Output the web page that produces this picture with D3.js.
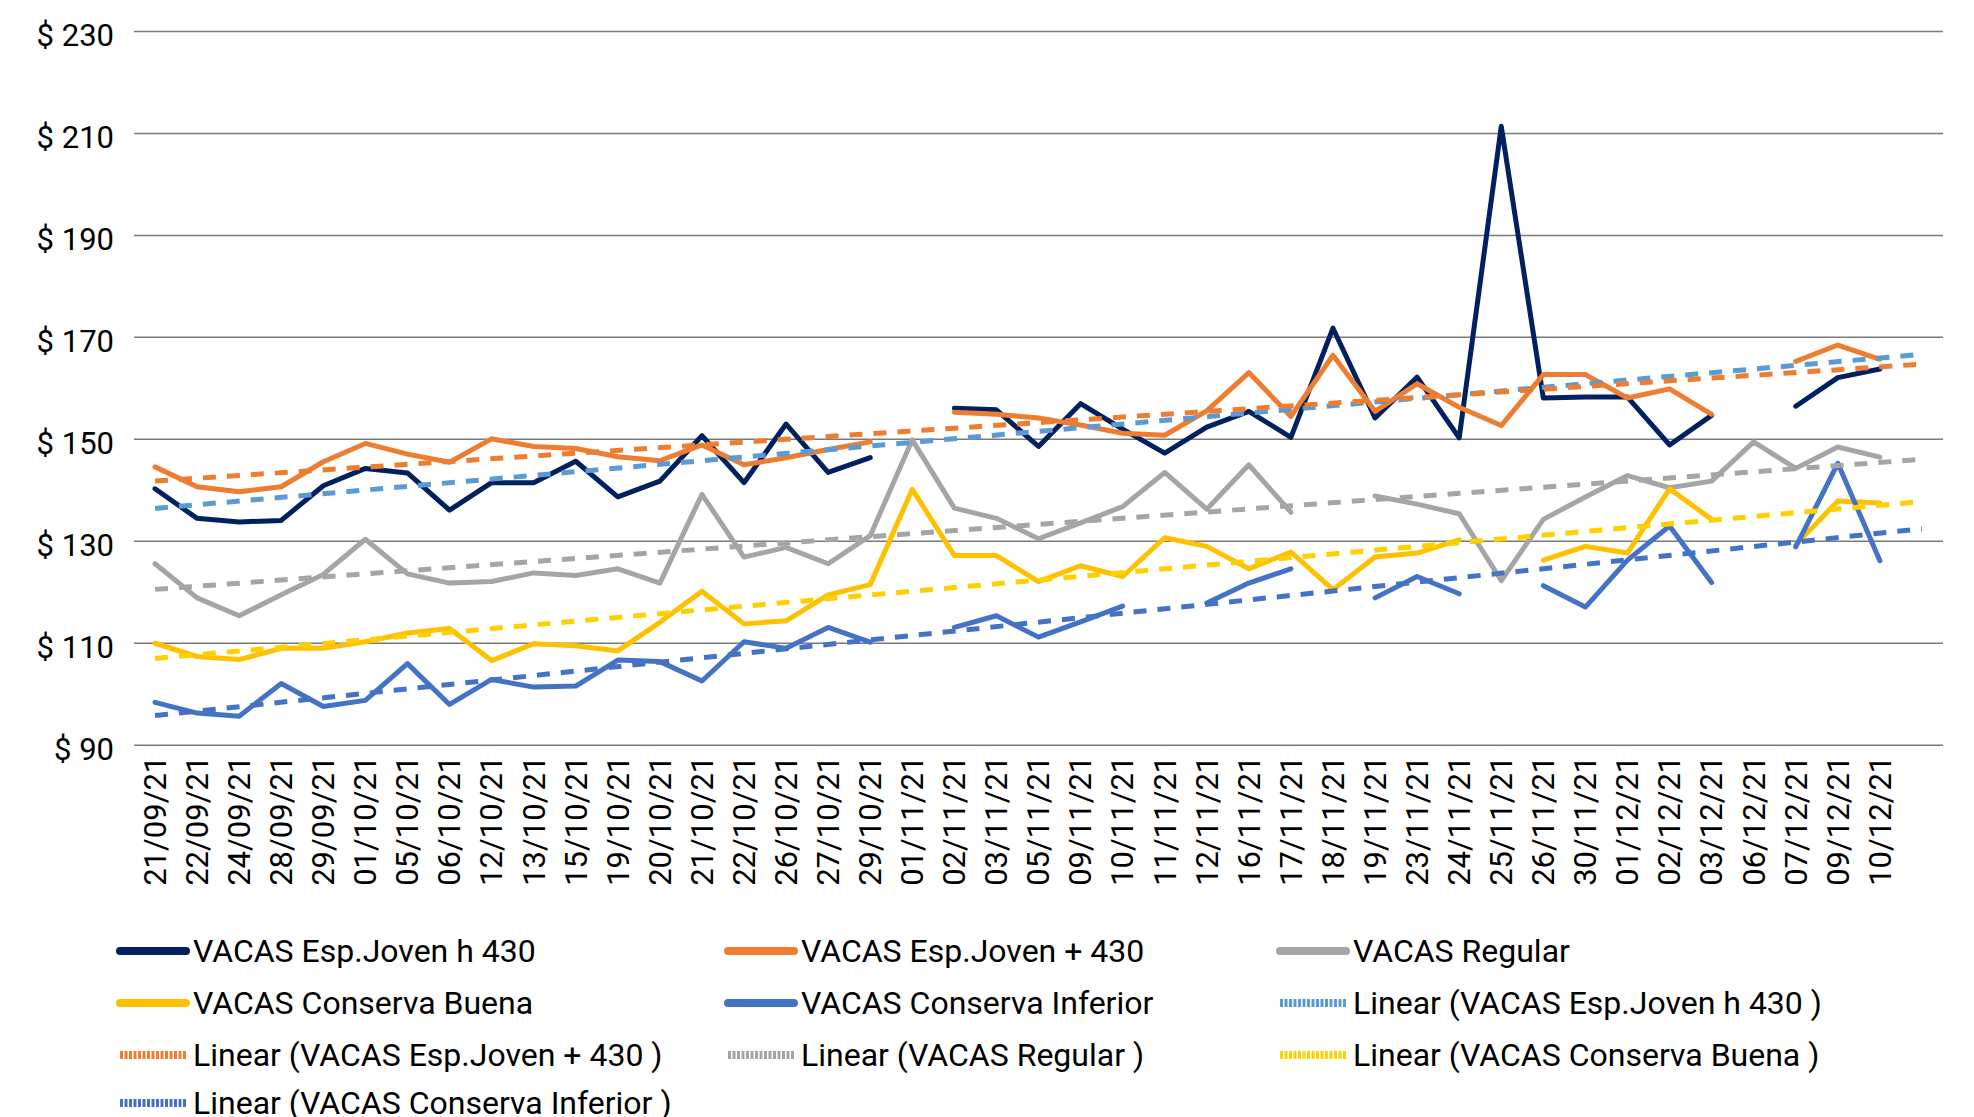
<!DOCTYPE html>
<html>
<head>
<meta charset="utf-8">
<script src="https://cdn.jsdelivr.net/npm/d3@7"></script>
<style>
  body { margin: 0; background: #fff; }
  svg text { font-family: Roboto, "Noto Sans", sans-serif; fill: #000; }
</style>
</head>
<body>
<script>
// fechas del eje x
var dates = ["21/09/21","22/09/21","24/09/21","28/09/21","29/09/21","01/10/21","05/10/21","06/10/21",
  "12/10/21","13/10/21","15/10/21","19/10/21","20/10/21","21/10/21","22/10/21","26/10/21","27/10/21",
  "29/10/21","01/11/21","02/11/21","03/11/21","05/11/21","09/11/21","10/11/21","11/11/21","12/11/21",
  "16/11/21","17/11/21","18/11/21","19/11/21","23/11/21","24/11/21","25/11/21","26/11/21","30/11/21",
  "01/12/21","02/12/21","03/12/21","06/12/21","07/12/21","09/12/21","10/12/21"];

// precios por serie (null = sin dato)
var espJovenH430 = [140.2,134.4,133.7,134.0,140.8,144.2,143.3,136.0,141.4,141.4,145.6,138.6,141.7,150.6,
  141.4,152.9,143.4,146.3,null,156.0,155.7,148.5,156.9,151.9,147.2,152.3,155.4,150.3,171.7,154.1,162.1,
  150.2,211.3,158.0,158.2,158.2,148.8,154.6,null,156.4,162.0,163.7];
var espJovenMas430 = [144.5,140.6,139.6,140.6,145.5,149.1,147.0,145.4,150.0,148.5,148.1,146.5,145.7,148.8,
  144.9,146.3,147.9,149.4,null,155.2,154.8,154.1,152.7,151.1,150.7,155.5,163.0,154.4,166.4,155.4,160.8,
  156.2,152.6,162.6,162.6,158.0,159.8,154.8,null,165.2,168.4,165.6];
var regular = [125.5,118.8,115.3,119.4,123.4,130.3,123.5,121.7,122.0,123.7,123.2,124.5,121.7,139.1,
  126.8,128.7,125.5,131.0,149.8,136.4,134.4,130.4,133.5,136.7,143.4,136.2,144.9,135.6,null,138.8,137.2,
  135.3,122.2,134.2,138.6,142.8,140.4,141.7,149.4,144.2,148.4,146.4];
var conservaBuena = [109.9,107.3,106.7,108.9,108.9,110.2,111.9,112.8,106.5,109.8,109.4,108.4,114.0,120.1,
  113.7,114.3,119.4,121.4,140.1,127.1,127.1,122.0,125.1,123.0,130.6,128.9,124.5,127.8,120.4,126.8,127.6,
  130.2,null,126.2,128.9,127.6,140.2,134.2,null,129.2,137.8,137.4];
var conservaInferior = [98.3,96.2,95.6,102.0,97.5,98.7,105.9,97.9,102.8,101.3,101.5,106.6,106.3,102.5,
  110.2,108.9,113.0,110.1,null,113.0,115.3,111.1,114.1,117.2,null,117.8,121.7,124.5,null,118.8,123.0,
  119.6,null,121.2,117.0,126.2,132.9,121.8,null,128.8,145.2,126.1];

var seriesNames = ["VACAS Esp.Joven h 430","VACAS Esp.Joven + 430","VACAS Regular",
  "VACAS Conserva Buena","VACAS Conserva Inferior"];
var yTicks = [90, 110, 130, 150, 170, 190, 210, 230];

// estilos
var lineColors = ["#002060", "#ED7D31", "#A5A5A5", "#FFC000", "#4472C4"];
var trendColors = ["#5B9BD5", "#ED7D31", "#A5A5A5", "#FFD000", "#4472C4"];

var series = [espJovenH430, espJovenMas430, regular, conservaBuena, conservaInferior];

var width = 1974, height = 1117;
var plotLeft = 134, plotRight = 1943, plotTop = 31, plotBottom = 744.7;

var svg = d3.select("body").append("svg")
    .attr("width", width)
    .attr("height", height);

// una categoria extra vacia al final (como en excel)
var x = d3.scaleBand().domain(d3.range(dates.length + 1)).range([plotLeft, plotRight]);
var cx = function(i) { return x(i) + x.bandwidth() / 2; };
var y = d3.scaleLinear().domain([90, 230]).range([plotBottom, plotTop]);

// eje y + grilla
var yAxis = svg.append("g")
    .attr("transform", "translate(" + plotLeft + ",0)")
    .call(d3.axisLeft(y).tickValues(yTicks).tickSize(-(plotRight - plotLeft)).tickPadding(20)
      .tickFormat(function(d) { return "$ " + d; }));
yAxis.select(".domain").remove();
yAxis.selectAll("line").attr("stroke", "#7a7a7a").attr("stroke-width", 1.5);
yAxis.selectAll("text")
    .attr("font-size", 31)
    .attr("dy", 14.5)
    .attr("y", 0);

// eje x
var xAxis = svg.append("g")
    .attr("transform", "translate(0," + plotBottom + ")")
    .call(d3.axisBottom(x).tickValues(d3.range(dates.length)).tickSize(0)
      .tickFormat(function(i) { return dates[i]; }));
xAxis.select(".domain").remove();
xAxis.selectAll("text")
    .attr("font-size", 31)
    .attr("transform", "rotate(-90)")
    .attr("text-anchor", "end")
    .attr("x", -11)
    .attr("y", 0)
    .attr("dy", "0.35em");

// lineas de datos
var line = d3.line()
    .defined(function(d) { return d != null; })
    .x(function(d, i) { return cx(i); })
    .y(function(d) { return y(d); });

svg.append("g").selectAll("path")
    .data(series)
    .join("path")
    .attr("d", line)
    .attr("fill", "none")
    .attr("stroke", function(d, i) { return lineColors[i]; })
    .attr("stroke-width", 5)
    .attr("stroke-linejoin", "round")
    .attr("stroke-linecap", "round");

// tendencias lineales (minimos cuadrados)
function linearFit(values) {
  var pts = [];
  values.forEach(function(v, i) { if (v != null) pts.push([i, v]); });
  var mx = d3.mean(pts, function(p) { return p[0]; }),
      my = d3.mean(pts, function(p) { return p[1]; });
  var num = d3.sum(pts, function(p) { return (p[0] - mx) * (p[1] - my); }),
      den = d3.sum(pts, function(p) { return (p[0] - mx) * (p[0] - mx); });
  var b = num / den;
  return function(i) { return my + b * (i - mx); };
}

var trendLine = d3.line()
    .x(function(d) { return cx(d[0]); })
    .y(function(d) { return y(d[1]); });

svg.append("g").selectAll("path")
    .data(series)
    .join("path")
    .attr("d", function(d) {
      var f = linearFit(d);
      return trendLine([[0, f(0)], [dates.length, f(dates.length)]]);
    })
    .attr("fill", "none")
    .attr("stroke", function(d, i) { return trendColors[i]; })
    .attr("stroke-width", 5)
    .attr("stroke-dasharray", "13,11");

// leyenda
var legendItems = [];
seriesNames.forEach(function(n, i) { legendItems.push({ name: n, color: lineColors[i], trend: false }); });
seriesNames.forEach(function(n, i) { legendItems.push({ name: "Linear (" + n + " )", color: trendColors[i], trend: true }); });

var colX = [116, 724, 1276],
    rowY = [951, 1003, 1055, 1103];

var legend = svg.append("g").selectAll("g")
    .data(legendItems)
    .join("g")
    .attr("transform", function(d, i) {
      return "translate(" + colX[i % 3] + "," + rowY[Math.floor(i / 3)] + ")";
    });

legend.append("line")
    .attr("x1", 4).attr("x2", 70)
    .attr("stroke", function(d) { return d.color; })
    .attr("stroke-width", 8)
    .attr("stroke-linecap", function(d) { return d.trend ? "butt" : "round"; })
    .attr("stroke-dasharray", function(d) { return d.trend ? "3,1.5" : null; });

legend.append("text")
    .attr("x", 77)
    .attr("dy", "0.35em")
    .attr("font-size", 32)
    .text(function(d) { return d.name; });
</script>
</body>
</html>
